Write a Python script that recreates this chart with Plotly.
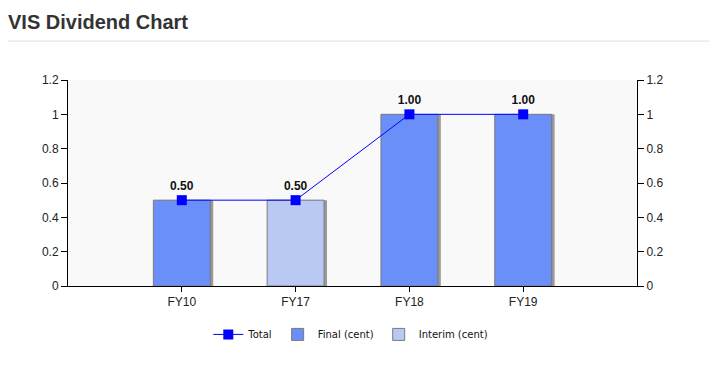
import plotly.graph_objects as go

categories = ["FY10", "FY17", "FY18", "FY19"]
final_cent = [0.5, None, 1.0, 1.0]
interim_cent = [None, 0.5, None, None]
total = [0.5, 0.5, 1.0, 1.0]
y_ticks = [0, 0.2, 0.4, 0.6, 0.8, 1, 1.2]
y_tick_labels = ["0", "0.2", "0.4", "0.6", "0.8", "1", "1.2"]

fig = go.Figure()

# bar shadows
shadow_vals = [f if f is not None else i for f, i in zip(final_cent, interim_cent)]
fig.add_trace(go.Bar(x=categories, y=shadow_vals, width=0.5, offset=-0.25 + 0.026,
                     marker=dict(color="rgba(120,120,120,0.75)", line=dict(width=0)),
                     showlegend=False, hoverinfo="skip"))

fig.add_trace(go.Bar(x=categories, y=final_cent, name="Final (cent)", width=0.5, offset=-0.25,
                     legendrank=2,
                     marker=dict(color="#6b8ff8", line=dict(color="#7a7a7a", width=1))))
fig.add_trace(go.Bar(x=categories, y=interim_cent, name="Interim (cent)", width=0.5, offset=-0.25,
                     legendrank=3,
                     marker=dict(color="#bac9f4", line=dict(color="#7a7a7a", width=1))))

fig.add_trace(go.Scatter(x=categories, y=total, name="Total", mode="lines+markers+text",
                         legendrank=1,
                         line=dict(color="#0000ff", width=1),
                         marker=dict(symbol="square", size=10, color="#0000ff"),
                         text=[f"{v:.2f}" for v in total], textposition="top center",
                         textfont=dict(family="Liberation Sans, Arial", size=12, color="#111", weight="bold"),
                         yaxis="y2", cliponaxis=False))

tick_font = dict(family="Liberation Sans, Arial", size=12, color="#222")

fig.update_layout(
    width=709, height=362,
    margin=dict(l=60, r=80, t=72, b=84),
    paper_bgcolor="white", plot_bgcolor="#f9f9f9",
    barmode="overlay",
    title=dict(text="<b>VIS Dividend Chart</b>", xref="container", x=0.0, xanchor="left",
               yref="container", y=0.982, yanchor="top",
               font=dict(family="Liberation Sans, Arial", size=20, color="#333")),
    xaxis=dict(range=[-1, 4], showline=True, linecolor="black", linewidth=1,
               ticks="outside", ticklen=5, tickcolor="black", tickfont=tick_font,
               showgrid=False, zeroline=False, fixedrange=True),
    yaxis=dict(range=[0, 1.2], tickvals=y_ticks, ticktext=y_tick_labels,
               showline=True, linecolor="black", linewidth=1,
               ticks="outside", ticklen=6, tickcolor="black", tickfont=tick_font,
               showgrid=False, zeroline=False),
    yaxis2=dict(range=[0, 1.2], tickvals=y_ticks, ticktext=y_tick_labels, overlaying="y", side="right",
                showline=True, linecolor="black", linewidth=1,
                ticks="outside", ticklen=6, tickcolor="black", tickfont=tick_font,
                showgrid=False, zeroline=False),
    legend=dict(orientation="h", x=0.497, xanchor="center", y=-0.235, yanchor="middle",
                font=dict(family="DejaVu Sans", size=10, color="#111"),
                traceorder="normal", itemwidth=30, bgcolor="rgba(0,0,0,0)"),
    shapes=[dict(type="line", xref="paper", yref="paper", x0=-0.12, x1=1.15, y0=1.189, y1=1.189,
                 line=dict(color="#dddddd", width=1))],
)

fig.write_html("out.html")
